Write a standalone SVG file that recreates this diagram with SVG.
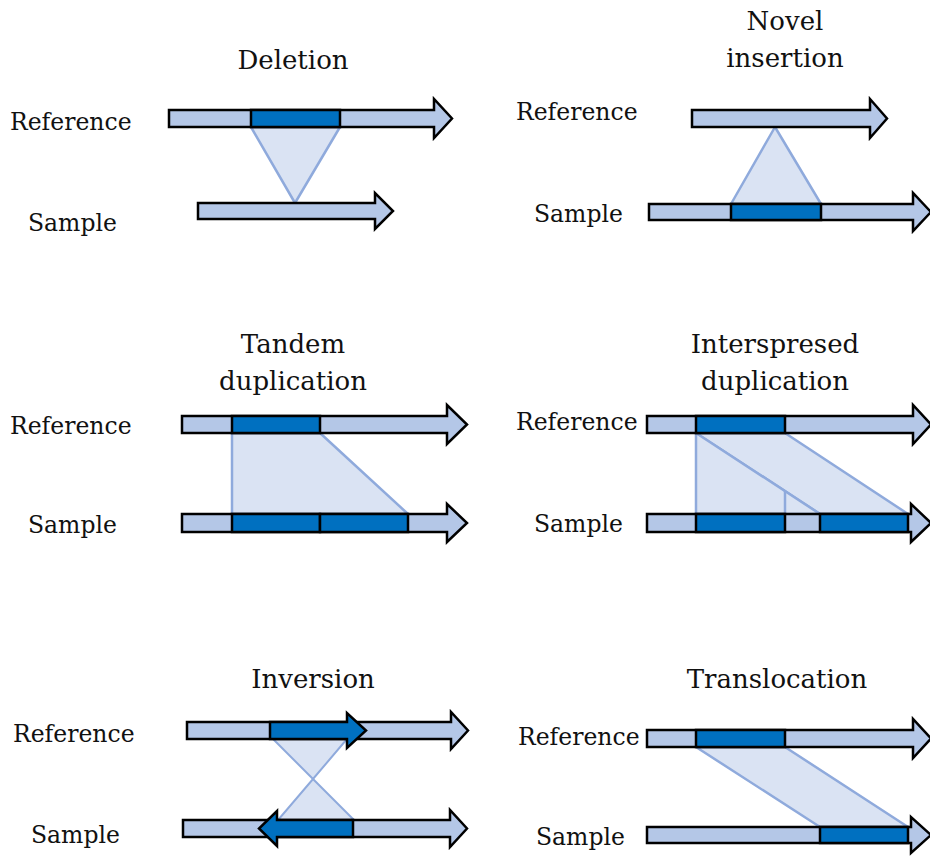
<svg xmlns="http://www.w3.org/2000/svg" width="930" height="856" viewBox="0 0 930 856">
<style>
.bg{fill:#ffffff}
.arr{fill:#b4c7e7;stroke:#000;stroke-width:2.5;stroke-linejoin:miter}
.blk{fill:#0070c0;stroke:#000;stroke-width:2.5;stroke-linejoin:miter}
.con{fill:#dae3f3;stroke:#8faadc;stroke-width:2.5;stroke-linejoin:round}
.conx{fill:#dae3f3;stroke:#8faadc;stroke-width:2}
.lbl{font-family:"DejaVu Serif","Liberation Serif",serif;font-size:23.5px;fill:#111}
.ttl{font-family:"DejaVu Serif","Liberation Serif",serif;font-size:26px;fill:#111;text-anchor:middle}
</style>
<rect class="bg" x="0" y="0" width="930" height="856"/>

<g id="connectors">
  <polygon class="con" points="251,127 340,127 295,203"/>
  <polygon class="con" points="775,127 731,204 821,204"/>
  <polygon class="con" points="232,433 320,433 408,514 232,514"/>
  <polygon class="con" points="696,433 785,433 908,514 820,514"/>
  <polygon class="con" points="696,433 820,514 785,514 696,514"/>
  <polyline class="con" fill="none" points="785,491 785,514"/>
  <polygon class="conx" points="273,739 347,739 313,779"/>
  <polygon class="conx" points="278,820 354,820 313,779"/>
  <polygon class="con" points="696,747 785,747 908,827 820,827"/>
</g>

<g id="deletion">
  <text class="ttl" x="293" y="69">Deletion</text>
  <text class="lbl" x="10" y="130">Reference</text>
  <text class="lbl" x="28" y="231">Sample</text>
  <polygon class="arr" points="169,110 434,110 434,99 452,118.5 434,138 434,127 169,127"/>
  <rect class="blk" x="251" y="110" width="89" height="17"/>
  <polygon class="arr" points="198,203 375,203 375,193 393,211 375,229 375,219 198,219"/>
</g>

<g id="novel-insertion">
  <text class="ttl" x="785" y="30">Novel</text>
  <text class="ttl" x="785" y="67">insertion</text>
  <text class="lbl" x="516" y="120">Reference</text>
  <text class="lbl" x="534" y="222">Sample</text>
  <polygon class="arr" points="692,110 870,110 870,99 887,118.5 870,138 870,127 692,127"/>
  <polygon class="arr" points="649,204 913,204 913,193 931,212 913,231 913,220 649,220"/>
  <rect class="blk" x="731" y="204" width="90" height="16"/>
</g>

<g id="tandem-duplication">
  <text class="ttl" x="293" y="353">Tandem</text>
  <text class="ttl" x="293" y="390">duplication</text>
  <text class="lbl" x="10" y="434">Reference</text>
  <text class="lbl" x="28" y="533">Sample</text>
  <polygon class="arr" points="182,416 447,416 447,405 467,424.5 447,444 447,433 182,433"/>
  <rect class="blk" x="232" y="416" width="88" height="17"/>
  <polygon class="arr" points="182,514 447,514 447,504 467,523 447,542 447,532 182,532"/>
  <rect class="blk" x="232" y="514" width="88" height="18"/>
  <rect class="blk" x="320" y="514" width="88" height="18"/>
</g>

<g id="interspersed-duplication">
  <text class="ttl" x="775" y="353">Interspresed</text>
  <text class="ttl" x="775" y="390">duplication</text>
  <text class="lbl" x="516" y="430">Reference</text>
  <text class="lbl" x="534" y="532">Sample</text>
  <polygon class="arr" points="647,416 913,416 913,405 931,424.5 913,444 913,433 647,433"/>
  <rect class="blk" x="696" y="416" width="89" height="17"/>
  <polygon class="arr" points="647,514 911,514 911,504 931,523 911,542 911,532 647,532"/>
  <rect class="blk" x="696" y="514" width="89" height="18"/>
  <rect class="blk" x="820" y="514" width="88" height="18"/>
</g>

<g id="inversion">
  <text class="ttl" x="313" y="688">Inversion</text>
  <text class="lbl" x="13" y="742">Reference</text>
  <text class="lbl" x="31" y="843">Sample</text>
  <polygon class="arr" points="187,722 451,722 451,712 468,730.5 451,749 451,739 187,739"/>
  <polygon class="blk" points="270,722 347,722 347,713 366,730.5 347,748 347,739 270,739"/>
  <polygon class="arr" points="183,820 450,820 450,810 467,828.5 450,847 450,837 183,837"/>
  <polygon class="blk" points="353,820 277,820 277,811 259,828.5 277,846 277,837 353,837"/>
</g>

<g id="translocation">
  <text class="ttl" x="777" y="688">Translocation</text>
  <text class="lbl" x="518" y="745">Reference</text>
  <text class="lbl" x="536" y="845">Sample</text>
  <polygon class="arr" points="647,730 913,730 913,719 931,738.5 913,758 913,747 647,747"/>
  <rect class="blk" x="696" y="730" width="89" height="17"/>
  <polygon class="arr" points="647,827 911,827 911,817 931,835 911,853 911,843 647,843"/>
  <rect class="blk" x="820" y="827" width="88" height="16"/>
</g>
</svg>
